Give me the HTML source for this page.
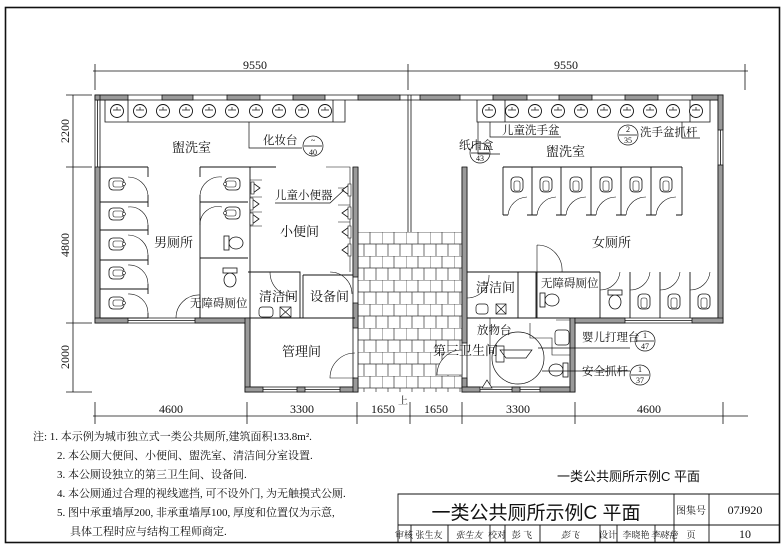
<!DOCTYPE html>
<html><head><meta charset="utf-8"><style>
html,body{margin:0;padding:0;background:#fff;}
svg{display:block;}
text{font-family:"Liberation Serif","Noto Serif CJK SC",serif;fill:#111;}
.sans{font-family:"Liberation Sans","Noto Sans CJK SC",sans-serif;}
</style></head><body>
<svg width="784" height="550" viewBox="0 0 784 550" xmlns="http://www.w3.org/2000/svg">
<defs>
<pattern id="tile" x="358" y="232" width="24" height="24" patternUnits="userSpaceOnUse">
<rect width="24" height="24" fill="#fff"/>
<path d="M0 0H24M0 12H24M0 0V12M12 0V12M6 12V24M18 12V24" stroke="#333" stroke-width="0.7" fill="none"/>
</pattern>
<g id="sq"><rect x="-8" y="-6" width="15" height="12" rx="4" fill="#fff" stroke="#111" stroke-width="0.8"/><rect x="-4" y="-3" width="10" height="6" rx="2" fill="#fff" stroke="#111" stroke-width="0.6"/><circle cx="7" cy="0" r="1.5" fill="#fff" stroke="#111" stroke-width="0.6"/></g>
<g id="sqv"><rect x="-6" y="-8" width="12" height="15" rx="4" fill="#fff" stroke="#111" stroke-width="0.8"/><rect x="-3" y="-4" width="6" height="10" rx="2" fill="#fff" stroke="#111" stroke-width="0.6"/></g>
<g id="sink"><circle r="6.5" fill="#fff" stroke="#111" stroke-width="0.9"/><path d="M-4 -1H4M0 -4V-1" stroke="#111" stroke-width="0.7"/></g>
<g id="ur"><path d="M5 -5L-2 0L5 5Z" fill="#fff" stroke="#111" stroke-width="0.8"/><rect x="4" y="-6" width="3" height="12" fill="#fff" stroke="#111" stroke-width="0.6"/></g>
<g id="wc"><ellipse cx="0" cy="4" rx="6" ry="7" fill="#fff" stroke="#111" stroke-width="0.8"/><rect x="-7" y="-8" width="14" height="5" fill="#fff" stroke="#111" stroke-width="0.8"/></g>
</defs>

<rect x="5.5" y="7.5" width="774" height="535" fill="none" stroke="#111" stroke-width="1.6"/>

<g stroke="#111" stroke-width="0.8" fill="none">
<path d="M93 71H748M95 64V90M408 64V90M745 64V90"/>
<path d="M73 95V392M66 95H92M66 167H92M66 323H92M66 392H92"/>
<path d="M93 416H748M95 402V424M247 402V424M357 402V424M410 402V424M462 402V424M575 402V424M723 402V424"/>
</g>
<text x="255" y="69" font-size="12" text-anchor="middle">9550</text>
<text x="566" y="69" font-size="12" text-anchor="middle">9550</text>
<text font-size="12" text-anchor="middle" transform="translate(69,131) rotate(-90)">2200</text>
<text font-size="12" text-anchor="middle" transform="translate(69,245) rotate(-90)">4800</text>
<text font-size="12" text-anchor="middle" transform="translate(69,357) rotate(-90)">2000</text>
<g font-size="12" text-anchor="middle">
<text x="171" y="413">4600</text><text x="302" y="413">3300</text><text x="383" y="413">1650</text>
<text x="436" y="413">1650</text><text x="518" y="413">3300</text><text x="649" y="413">4600</text>
</g>
<text x="398" y="404" font-size="10">上</text>

<rect x="358" y="232" width="104" height="160" fill="url(#tile)"/>
<path d="M408 95V232M411 95V232" stroke="#111" stroke-width="0.8"/>

<g stroke="#111" stroke-width="0.8" fill="none">
<path d="M95 95H723V323H575V392H462V167"/>
<path d="M358 167V392H245V323H95V95"/>
<path d="M100 100H718V318H570V387H467V167"/>
<path d="M353 167V387H250V318H100V100"/>
<path d="M97.5 100V167M720.5 130V165M128 320.5H195M625 320.5H692M263 389.5H340M480 389.5H540"/>
</g>
<g fill="#9a9a9a" stroke="#111" stroke-width="0.8">
<rect x="95" y="95" width="33" height="5"/><rect x="162" y="95" width="31" height="5"/><rect x="227" y="95" width="33" height="5"/><rect x="293" y="95" width="32" height="5"/><rect x="358" y="95" width="42" height="5"/>
<rect x="420" y="95" width="40" height="5"/><rect x="493" y="95" width="34" height="5"/><rect x="559" y="95" width="33" height="5"/><rect x="625" y="95" width="33" height="5"/><rect x="692" y="95" width="31" height="5"/>
<rect x="95" y="95" width="5" height="5"/><rect x="95" y="167" width="5" height="156"/>
<rect x="718" y="95" width="5" height="35"/><rect x="718" y="165" width="5" height="158"/>
<rect x="95" y="318" width="33" height="5"/><rect x="195" y="318" width="55" height="5"/>
<rect x="245" y="318" width="5" height="74"/>
<rect x="245" y="387" width="18" height="5"/><rect x="297" y="387" width="8" height="5"/><rect x="340" y="387" width="18" height="5"/>
<rect x="353" y="167" width="5" height="110"/><rect x="353" y="303" width="5" height="25"/><rect x="353" y="378" width="5" height="14"/>
<rect x="462" y="167" width="5" height="176"/><rect x="462" y="378" width="5" height="14"/>
<rect x="462" y="387" width="18" height="5"/><rect x="512" y="387" width="8" height="5"/><rect x="540" y="387" width="35" height="5"/>
<rect x="570" y="318" width="5" height="74"/>
<rect x="575" y="318" width="50" height="5"/><rect x="692" y="318" width="31" height="5"/>
</g>

<g stroke="#111" stroke-width="0.8" fill="none">
<path d="M105 100V122H345V100M128 100V122M333 100V122"/>
<path d="M477 100V122H710V100M505 100V122M690 100V122"/>
</g>
<g>
<use href="#sink" x="117" y="111"/><use href="#sink" x="140" y="111"/><use href="#sink" x="163" y="111"/><use href="#sink" x="186" y="111"/><use href="#sink" x="209" y="111"/><use href="#sink" x="232" y="111"/><use href="#sink" x="256" y="111"/><use href="#sink" x="279" y="111"/><use href="#sink" x="302" y="111"/><use href="#sink" x="325" y="111"/>
<use href="#sink" x="489" y="111"/><use href="#sink" x="512" y="111"/><use href="#sink" x="535" y="111"/><use href="#sink" x="558" y="111"/><use href="#sink" x="581" y="111"/><use href="#sink" x="604" y="111"/><use href="#sink" x="627" y="111"/><use href="#sink" x="650" y="111"/><use href="#sink" x="673" y="111"/><use href="#sink" x="696" y="111"/>
</g>

<g stroke="#111" stroke-width="0.9" fill="none">
<path d="M100 167H148M100 202H148M100 230H148M100 260H148M100 289H148M100 318H148"/>
<path d="M148 167V177M148 195V207M148 225V235M148 255V265M148 284V294M148 313V318"/>
<path d="M128 177A20 20 0 0 1 148 195M128 207A18 18 0 0 1 148 225M128 235A20 20 0 0 1 148 255M128 265A19 19 0 0 1 148 284M128 294A19 19 0 0 1 148 313" stroke-width="0.6"/>
<path d="M200 167H276M200 202H248M200 258H248M200 167V177M200 195V258M200 258V318"/>
<path d="M222 177A20 20 0 0 0 200 195M222 207A18 18 0 0 0 200 225" stroke-width="0.6"/>
<path d="M250 167V318M248 272H300V318M300 272V318M303 275V318M303 275H353M250 318H355"/>
<path d="M176 318A23 23 0 0 1 200 295V318" stroke-width="0.6"/>
<path d="M326 167H350V272M270 272A25 25 0 0 0 295 297" stroke-width="0.6"/>
<path d="M330 272A22 22 0 0 1 352 294" stroke-width="0.6"/>
<path d="M250 180H262M250 197H262M250 212H262M250 226H262M338 188H350M338 205H350M338 222H350" stroke-width="0.6"/>
<path d="M355 353A25 25 0 0 0 330 378H355" stroke-width="0.6"/>
</g>
<use href="#sq" x="117" y="184"/><use href="#sq" x="117" y="214"/><use href="#sq" x="117" y="244"/><use href="#sq" x="117" y="273"/><use href="#sq" x="117" y="303"/>
<use href="#sq" x="232" y="184" transform="rotate(180 232 184)"/><use href="#sq" x="232" y="213" transform="rotate(180 232 213)"/>
<g transform="translate(232,243) rotate(-90)"><use href="#wc"/></g>
<use href="#wc" x="230" y="276"/>
<use href="#ur" x="254" y="188" transform="rotate(180 256 188)"/>
<use href="#ur" x="257" y="204" transform="rotate(180 257 204)"/><use href="#ur" x="257" y="219" transform="rotate(180 257 219)"/>
<use href="#ur" x="344" y="190"/><use href="#ur" x="344" y="213"/><use href="#ur" x="344" y="232"/><use href="#ur" x="344" y="250"/>
<g stroke="#111" stroke-width="0.7" fill="#fff">
<rect x="259" y="307" width="14" height="10" rx="3"/><rect x="280" y="307" width="11" height="10"/><path d="M280 307L291 317M291 307L280 317" fill="none"/>
</g>

<g stroke="#111" stroke-width="0.9" fill="none">
<path d="M503 167H682M503 167V215M532 167V215M561 167V215M591 167V215M621 167V215M651 167V215M682 167V215"/>
<path d="M503 215H508M527 215H537M556 215H566M586 215H596M616 215H626M646 215H656M676 215H682"/>
<path d="M508 215A20 20 0 0 1 527 197M537 215A20 20 0 0 1 556 197M566 215A20 20 0 0 1 586 197M596 215A20 20 0 0 1 616 197M626 215A20 20 0 0 1 646 197M656 215A20 20 0 0 1 676 197" stroke-width="0.6"/>
<path d="M467 272H537V318M536 272V318M518 272V318M467 318H570M537 272H600M600 272V318M630 272V318M660 272V318M690 272V318"/>
<path d="M537 245A25 25 0 0 1 562 272M537 245V272M600 290A20 20 0 0 0 620 272M630 290A20 20 0 0 0 650 272M660 290A20 20 0 0 0 680 272M690 290A20 20 0 0 0 710 272M467 298A22 22 0 0 0 489 275" stroke-width="0.6"/>
<path d="M437 375A25 25 0 0 1 462 350V375Z" stroke-width="0.6" fill="#fff"/>
<circle cx="518" cy="358" r="26" stroke-width="0.7"/>
<path d="M530 323V338H552V355H570M490 318V387M556 320H570" stroke-width="0.6"/>
</g>
<g><use href="#sqv" x="517" y="185"/><use href="#sqv" x="546" y="185"/><use href="#sqv" x="576" y="185"/><use href="#sqv" x="606" y="185"/><use href="#sqv" x="636" y="185"/><use href="#sqv" x="666" y="185"/>
<use href="#sqv" x="644" y="302"/><use href="#sqv" x="674" y="302"/><use href="#sqv" x="704" y="302"/>
<use href="#wc" x="615" y="298"/><g transform="translate(548,300) rotate(-90)"><use href="#wc"/></g>
<g transform="translate(560,370) rotate(90)"><use href="#wc"/></g></g>
<g stroke="#111" stroke-width="0.7" fill="#fff">
<rect x="476" y="304" width="12" height="10" rx="3"/><rect x="496" y="304" width="10" height="10"/><path d="M496 304L506 314M506 304L496 314" fill="none"/>
<rect x="555" y="330" width="14" height="15" rx="3"/><path d="M482 388L487 380L492 388Z"/>
<path d="M500 350H532L526 358H506Z M496 346V362H504V346Z"/>
</g>

<g font-size="13">
<text x="172" y="152">盥洗室</text><text x="154" y="247">男厕所</text><text x="280" y="236">小便间</text>
<text x="259" y="301">清洁间</text><text x="310" y="301">设备间</text><text x="282" y="356">管理间</text>
<text x="546" y="156">盥洗室</text><text x="592" y="247">女厕所</text><text x="476" y="292">清洁间</text>
<text x="433" y="355">第三卫生间</text>
</g>
<g font-size="11.5">
<text x="190" y="307">无障碍厕位</text><text x="275" y="199">儿童小便器</text><text x="263" y="144">化妆台</text>
<text x="541" y="287">无障碍厕位</text><text x="477" y="334">放物台</text><text x="502" y="134">儿童洗手盆</text>
<text x="640" y="136">洗手盆抓杆</text><text x="459" y="149">纸巾盒</text><text x="582" y="341">婴儿打理台</text><text x="582" y="375">安全抓杆</text>
</g>
<g stroke="#111" stroke-width="0.7" fill="none">
<path d="M249 122V148H302M275 203H330L344 190M490 122V137H561M478 122V154H500M682 122V138H700"/>
<path d="M538 348H630M542 371H630"/>
<circle cx="313" cy="146" r="10"/><circle cx="480" cy="153" r="10"/><circle cx="628" cy="135" r="10"/><circle cx="645" cy="341" r="10"/><circle cx="640" cy="375" r="10"/>
<path d="M304 146H322M471 153H489M619 135H637M636 341H654M631 375H649"/>
</g>
<g font-size="8" text-anchor="middle">
<text x="313" y="143">~</text><text x="313" y="155">40</text>
<text x="480" y="150">1</text><text x="480" y="161">43</text>
<text x="628" y="132">2</text><text x="628" y="143">35</text>
<text x="645" y="338">1</text><text x="645" y="349">47</text>
<text x="640" y="372">1</text><text x="640" y="383">37</text>
</g>

<g font-size="11">
<text x="33" y="440">注: 1. 本示例为城市独立式一类公共厕所,建筑面积133.8m².</text>
<text x="57" y="459">2. 本公厕大便间、小便间、盥洗室、清洁间分室设置.</text>
<text x="57" y="478">3. 本公厕设独立的第三卫生间、设备间.</text>
<text x="57" y="497">4. 本公厕通过合理的视线遮挡, 可不设外门, 为无触摸式公厕.</text>
<text x="57" y="516">5. 图中承重墙厚200, 非承重墙厚100, 厚度和位置仅为示意,</text>
<text x="70" y="535">具体工程时应与结构工程师商定.</text>
</g>
<text x="557" y="481" font-size="13" class="sans">一类公共厕所示例C 平面</text>

<g stroke="#111" stroke-width="0.9" fill="none">
<path d="M398 543V494H780M398 525H780M674 494V543M709 494V543"/>
<path d="M411 525V543M448 525V543M490 525V543M505 525V543M540 525V543M600 525V543M617 525V543M655 525V543"/>
</g>
<text x="536" y="519" font-size="19" text-anchor="middle" class="sans">一类公共厕所示例C 平面</text>
<text x="691" y="514" font-size="10" text-anchor="middle">图集号</text>
<text x="745" y="514" font-size="12" text-anchor="middle">07J920</text>
<g font-size="9" text-anchor="middle">
<text x="404" y="538">审核</text><text x="429" y="538">张生友</text><text x="469" y="538" font-style="italic">张生友</text>
<text x="497" y="538">校对</text><text x="522" y="538">彭 飞</text><text x="570" y="538" font-style="italic">彭飞</text>
<text x="608" y="538">设计</text><text x="636" y="538">李晓艳</text><text x="664" y="538" font-style="italic">李晓艳</text>
<text x="691" y="538">页</text><text x="745" y="538" font-size="12">10</text>
</g>
</svg>
</body></html>
